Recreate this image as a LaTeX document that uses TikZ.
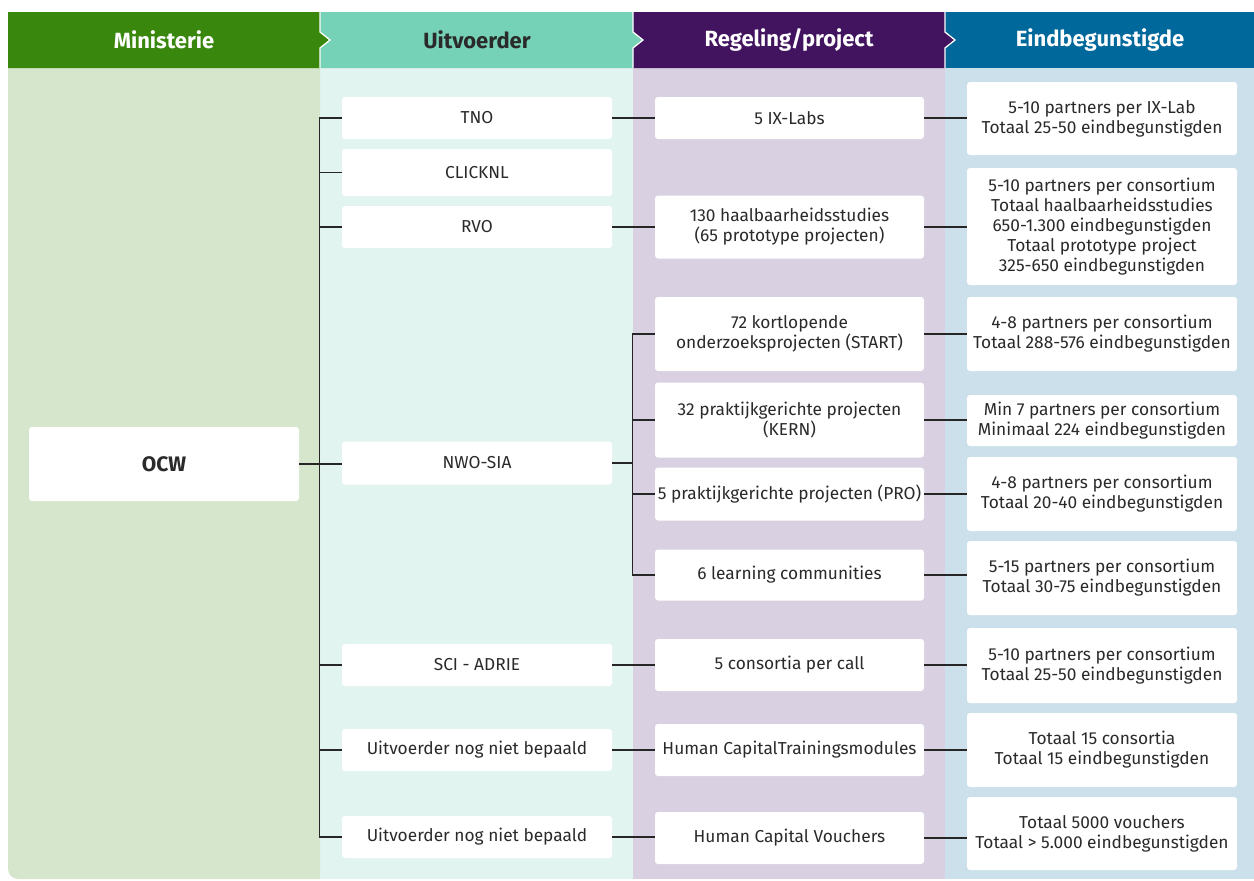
\documentclass[tikz,border=0pt]{standalone}
\usepackage{fontspec}
\setmainfont{Fira Sans}
\definecolor{hgreen}{HTML}{39870C}
\definecolor{hmint}{HTML}{76D2B6}
\definecolor{hpurple}{HTML}{42145F}
\definecolor{hblue}{HTML}{01689B}
\definecolor{bgreen}{HTML}{D6E6CC}
\definecolor{bmint}{HTML}{E2F4EF}
\definecolor{bpurple}{HTML}{D9D0E1}
\definecolor{bblue}{HTML}{CCE0EB}
\definecolor{txt}{HTML}{2A2A2A}
\begin{document}
\begin{tikzpicture}[x=1pt,y=-1pt,
  box/.style={fill=white, rounded corners=3pt, align=center, inner sep=0pt,
    font=\fontsize{17.3}{20}\selectfont, text=txt},
  ucol/.style={box, minimum width=270pt},
  rcol/.style={box, minimum width=269pt},
  ecol/.style={box, minimum width=270pt},
  hdr/.style={font=\fontsize{22}{26}\selectfont\bfseries},
  conn/.style={draw=black!85, line width=1.2pt},
  sep/.style={draw=white, line width=1.3pt}]
\useasboundingbox (0,0) rectangle (1254,881);
% body backgrounds
\fill[bblue] (945,68) rectangle (1254,879);
\fill[bpurple] (633,68) rectangle (945,879);
\fill[bmint] (320,68) rectangle (633,879);
\fill[bgreen] (320,879) [rounded corners=10pt] -- (8,879) [sharp corners] -- (8,68) -- (320,68) -- cycle;
% header
\fill[hblue] (945,12) rectangle (1254,68);
\fill[hpurple] (633,12) -- (945,12) -- (945,32) -- (955,40) -- (945,48) -- (945,68) -- (633,68) -- cycle;
\fill[hmint] (320,12) -- (633,12) -- (633,32) -- (643,40) -- (633,48) -- (633,68) -- (320,68) -- cycle;
\fill[hgreen] (8,12) -- (320,12) -- (320,32) -- (330,40) -- (320,48) -- (320,68) -- (8,68) -- cycle;
\draw[sep] (320,12) -- (320,32) -- (330,40) -- (320,48) -- (320,68);
\draw[sep] (633,12) -- (633,32) -- (643,40) -- (633,48) -- (633,68);
\draw[sep] (945,12) -- (945,32) -- (955,40) -- (945,48) -- (945,68);
\node[hdr, text=white] (h1) at (164,40) {Ministerie};
\node[hdr, text=txt] (h2) at (477,40) {Uitvoerder};
\node[hdr, text=white] (h3) at (789,40) {Regeling/project};
\node[hdr, text=white] (h4) at (1100,40) {Eindbegunstigde};
% ministerie
\node[box, minimum width=270pt, minimum height=74pt, font=\fontsize{21}{24}\selectfont\bfseries] (ocw) at (164,464) {OCW};
% uitvoerders
\node[ucol, minimum height=42pt] (tno) at (477,118) {TNO};
\node[ucol, minimum height=47pt] (click) at (477,172.5) {CLICKNL};
\node[ucol, minimum height=42pt] (rvo) at (477,227) {RVO};
\node[ucol, minimum height=43pt] (nwo) at (477,463) {NWO-SIA};
\node[ucol, minimum height=42pt] (sci) at (477,665) {SCI - ADRIE};
\node[ucol, minimum height=42pt] (u1) at (477,750) {Uitvoerder nog niet bepaald};
\node[ucol, minimum height=42pt] (u2) at (477,837) {Uitvoerder nog niet bepaald};
% regelingen
\node[rcol, minimum height=42pt] (ix) at (789.5,118) {5 IX-Labs};
\node[rcol, minimum height=63pt] (haal) at (789.5,227) {130 haalbaarheidsstudies\\(65 prototype projecten)};
\node[rcol, minimum height=74pt] (start) at (789.5,334) {72 kortlopende\\onderzoeksprojecten (START)};
\node[rcol, minimum height=75pt] (kern) at (789.5,420) {32 praktijkgerichte projecten\\(KERN)};
\node[rcol, minimum height=53pt] (pro) at (789.5,494) {5 praktijkgerichte projecten (PRO)};
\node[rcol, minimum height=51pt] (lc) at (789.5,575) {6 learning communities};
\node[rcol, minimum height=52pt] (call) at (789.5,665) {5 consortia per call};
\node[rcol, minimum height=52pt] (hct) at (789.5,750) {Human CapitalTrainingsmodules};
\node[rcol, minimum height=52pt] (hcv) at (789.5,838) {Human Capital Vouchers};
% eindbegunstigden
\node[ecol, minimum height=73pt] (e1) at (1102,118.5) {5-10 partners per IX-Lab\\Totaal 25-50 eindbegunstigden};
\node[ecol, minimum height=117pt] (e2) at (1102,226.5) {5-10 partners per consortium\\Totaal haalbaarheidsstudies\\650-1.300 eindbegunstigden\\Totaal prototype project\\325-650 eindbegunstigden};
\node[ecol, minimum height=74pt] (e3) at (1102,334) {4-8 partners per consortium\\Totaal 288-576 eindbegunstigden};
\node[ecol, minimum height=51pt] (e4) at (1102,420.5) {Min 7 partners per consortium\\Minimaal 224 eindbegunstigden};
\node[ecol, minimum height=74pt] (e5) at (1102,494) {4-8 partners per consortium\\Totaal 20-40 eindbegunstigden};
\node[ecol, minimum height=74pt] (e6) at (1102,578) {5-15 partners per consortium\\Totaal 30-75 eindbegunstigden};
\node[ecol, minimum height=75pt] (e7) at (1102,665.5) {5-10 partners per consortium\\Totaal 25-50 eindbegunstigden};
\node[ecol, minimum height=74pt] (e8) at (1102,750) {Totaal 15 consortia\\Totaal 15 eindbegunstigden};
\node[ecol, minimum height=73pt] (e9) at (1102,833.5) {Totaal 5000 vouchers\\Totaal > 5.000 eindbegunstigden};
% connectors: ministerie -> uitvoerders
\draw[conn] (ocw.east) -- (ocw.east -| nwo.west);
\draw[conn] (tno.west) -- ++(-22,0) |- (u2.west);
\draw[conn] (click.west) -- ++(-22,0);
\draw[conn] (rvo.west) -- ++(-22,0);
\draw[conn] (sci.west) -- ++(-22,0);
\draw[conn] (u1.west) -- ++(-22,0);
% uitvoerders -> regelingen
\draw[conn] (tno.east) -- (ix.west);
\draw[conn] (rvo.east) -- (haal.west);
\draw[conn] (sci.east) -- (call.west);
\draw[conn] (u1.east) -- (hct.west);
\draw[conn] (u2.east) -- (u2.east -| hcv.west);
\draw[conn] (nwo.east) -- ++(21,0);
\draw[conn] (start.west) -- ++(-22,0) |- (lc.west);
\draw[conn] (kern.west) -- ++(-22,0);
\draw[conn] (pro.west) -- ++(-22,0);
% regelingen -> eindbegunstigden
\draw[conn] (ix.east) -- (ix.east -| e1.west);
\draw[conn] (haal.east) -- (haal.east -| e2.west);
\draw[conn] (start.east) -- (start.east -| e3.west);
\draw[conn] (kern.east) -- (kern.east -| e4.west);
\draw[conn] (pro.east) -- (pro.east -| e5.west);
\draw[conn] (lc.east) -- (lc.east -| e6.west);
\draw[conn] (call.east) -- (call.east -| e7.west);
\draw[conn] (hct.east) -- (hct.east -| e8.west);
\draw[conn] (hcv.east) -- (hcv.east -| e9.west);
\end{tikzpicture}
\end{document}
